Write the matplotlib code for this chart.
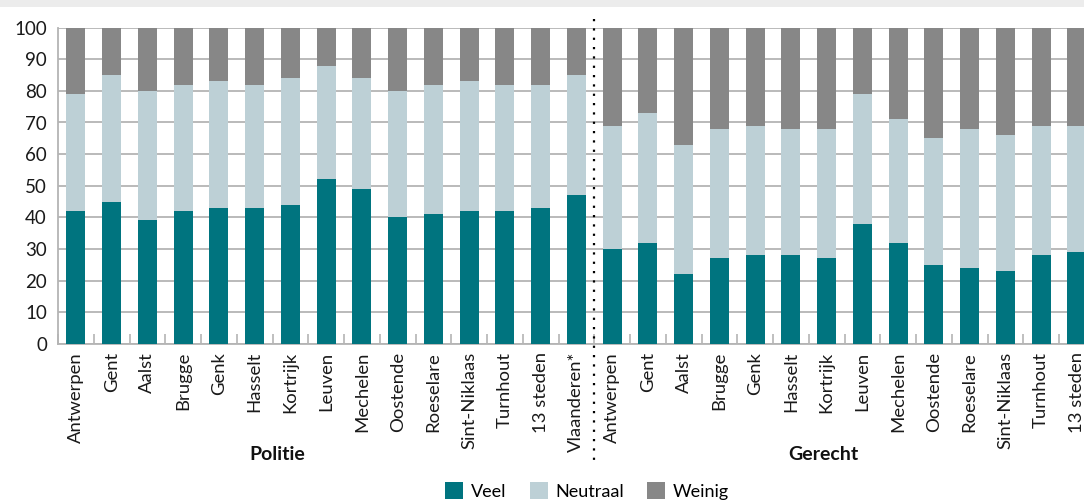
import matplotlib
matplotlib.use("Agg")
import matplotlib.pyplot as plt
from matplotlib.patches import Rectangle
from matplotlib.lines import Line2D
import numpy as np

plt.rcParams['font.family'] = ['Lato', 'DejaVu Sans']

# ---- data ----
cities_politie = ["Antwerpen", "Gent", "Aalst", "Brugge", "Genk", "Hasselt", "Kortrijk",
                  "Leuven", "Mechelen", "Oostende", "Roeselare", "Sint-Niklaas",
                  "Turnhout", "13 steden", "Vlaanderen*"]
cities_gerecht = ["Antwerpen", "Gent", "Aalst", "Brugge", "Genk", "Hasselt", "Kortrijk",
                  "Leuven", "Mechelen", "Oostende", "Roeselare", "Sint-Niklaas",
                  "Turnhout", "13 steden"]

veel_politie = [42, 45, 39, 42, 43, 43, 44, 52, 49, 40, 41, 42, 42, 43, 47]
neutraal_politie = [37, 40, 41, 40, 40, 39, 40, 36, 35, 40, 41, 41, 40, 39, 38]
weinig_politie = [21, 15, 20, 18, 17, 18, 16, 12, 16, 20, 18, 17, 18, 18, 15]

veel_gerecht = [30, 32, 22, 27, 28, 28, 27, 38, 32, 25, 24, 23, 28, 29]
neutraal_gerecht = [39, 41, 41, 41, 41, 40, 41, 41, 39, 40, 44, 43, 41, 40]
weinig_gerecht = [31, 27, 37, 32, 31, 32, 32, 21, 29, 35, 32, 34, 31, 31]

series_names = ["Veel", "Neutraal", "Weinig"]
group_names = ["Politie", "Gerecht"]
yticks = [0, 10, 20, 30, 40, 50, 60, 70, 80, 90, 100]

colors = ["#00747f", "#bdd0d6", "#878787"]

labels = cities_politie + cities_gerecht
veel = np.array(veel_politie + veel_gerecht)
neutraal = np.array(neutraal_politie + neutraal_gerecht)
weinig = np.array(weinig_politie + weinig_gerecht)
n = len(labels)
x = np.arange(n)

W, H = 1084, 504
fig = plt.figure(figsize=(W / 100, H / 100), dpi=100)
fig.patch.set_facecolor("white")
# top light band
fig.patches.append(Rectangle((0, (H - 7) / H), 1, 7 / H, transform=fig.transFigure,
                             facecolor="#ececec", edgecolor="none", zorder=0))

left_px, top_px, bottom_px = 58, 27.7, 343.7
step = 35.75
ax = fig.add_axes([left_px / W, (H - bottom_px) / H, n * step / W, (bottom_px - top_px) / H])

bw = 0.53
ax.bar(x, veel, bw, color=colors[0], label=series_names[0], zorder=3)
ax.bar(x, neutraal, bw, bottom=veel, color=colors[1], label=series_names[1], zorder=3)
ax.bar(x, weinig, bw, bottom=veel + neutraal, color=colors[2], label=series_names[2], zorder=3)

ax.set_xlim(-0.5, n - 0.5)
ax.set_ylim(0, 100)
ax.set_yticks(yticks)
ax.set_yticklabels([str(v) for v in yticks], fontsize=13.5, color="#1a1a1a")
ax.yaxis.grid(True, color="#b4b4b4", linewidth=1.3, zorder=0)
ax.set_axisbelow(True)
ax.tick_params(axis="y", length=0, pad=8)

ax.set_xticks(x)
ax.set_xticklabels(labels, rotation=90, fontsize=13.3, color="#1a1a1a", va="top", ha="center")
ax.tick_params(axis="x", which="major", length=0, pad=6)
ax.set_xticks(np.arange(n + 1) - 0.5, minor=True)
ax.tick_params(axis="x", which="minor", direction="in", length=7, width=1.2, color="#b4b4b4")

for s in ["top", "right"]:
    ax.spines[s].set_visible(False)
for s in ["left", "bottom"]:
    ax.spines[s].set_color("#b4b4b4")
    ax.spines[s].set_linewidth(1.3)

# separator dotted line
sep_x = (left_px + 15 * step) / W
fig.add_artist(Line2D([sep_x, sep_x], [(H - 19) / H, (H - 464) / H], transform=fig.transFigure,
                      color="black", linewidth=1.6, linestyle=(0, (1, 3.2)), zorder=5))

# group labels
fig.text(277 / W, (H - 455) / H, group_names[0], fontsize=14, fontweight="bold",
         ha="center", va="center", color="#111111")
fig.text(823 / W, (H - 455) / H, group_names[1], fontsize=14, fontweight="bold",
         ha="center", va="center", color="#111111")

handles, lab = ax.get_legend_handles_labels()
fig.legend(handles, lab, loc="center", bbox_to_anchor=(587 / W, (H - 491) / H), ncol=3,
           frameon=False, fontsize=13, handlelength=1.0, handleheight=1.0,
           handletextpad=0.4, columnspacing=1.3, borderaxespad=0)

fig.savefig("out.png", dpi=100)
